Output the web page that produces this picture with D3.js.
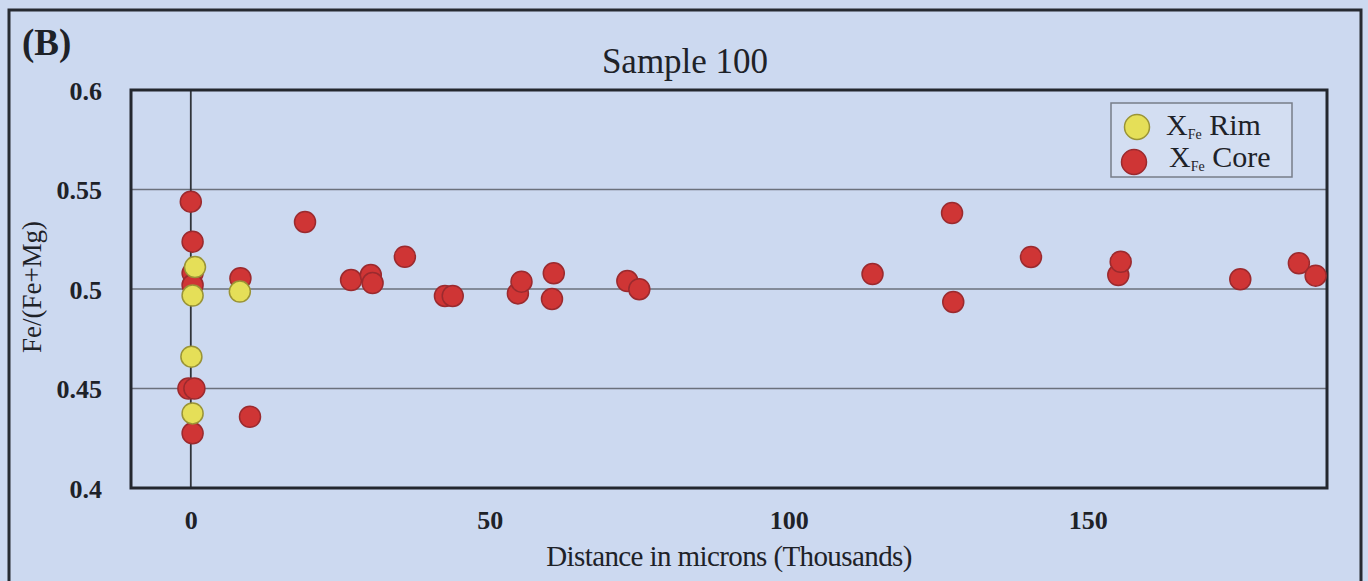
<!DOCTYPE html>
<html>
<head>
<meta charset="utf-8">
<script src="https://cdn.jsdelivr.net/npm/d3@7"></script>
<style>
  html, body { margin: 0; padding: 0; background: #ccd9f0; }
  svg { display: block; }
  text { font-family: "Liberation Serif", "Times New Roman", serif; fill: #1e2228; }
</style>
</head>
<body>
<svg id="chart" width="1368" height="581"></svg>
<script>
// ---- data ----
const rimX  = [0.7, 0.3, 0.1, 0.3, 8.2];
const rimY  = [0.511, 0.4967, 0.466, 0.4375, 0.4987];
const coreX = [0.0, 0.3, 0.3, 0.3, -0.4, 0.6, 0.3, 8.3, 9.9, 19.1, 26.8, 30.1, 30.4, 35.8, 42.5, 43.8,
               54.7, 55.3, 60.4, 60.7, 73.0, 75.0, 114.0, 127.3, 127.5, 140.5, 155.1, 155.5, 175.5, 185.3, 188.1];
const coreY = [0.5439, 0.5238, 0.508, 0.502, 0.450, 0.450, 0.4275, 0.5054, 0.4358, 0.5337, 0.5045, 0.507, 0.503, 0.5162, 0.4965, 0.4965,
               0.4978, 0.5037, 0.495, 0.5079, 0.504, 0.4999, 0.5075, 0.5382, 0.4935, 0.5161, 0.507, 0.5137, 0.5049, 0.5129, 0.5067];
const xTicks = [0, 50, 100, 150];
const yTicks = [0.4, 0.45, 0.5, 0.55, 0.6];
const yTickLabels = ["0.4", "0.45", "0.5", "0.55", "0.6"];
const chartTitle = "Sample 100";
const panelLabel = "(B)";
const xTitle = "Distance in microns (Thousands)";
const yTitle = "Fe/(Fe+Mg)";
const legendNames = ["Rim", "Core"];

// ---- layout ----
const svg = d3.select("#chart");
const L = 131, R = 1327, T = 90, B = 488;
const x = d3.scaleLinear().domain([-10, 190]).range([L, R]);
const y = d3.scaleLinear().domain([0.4, 0.6]).range([B, T]);

// outer frame
svg.append("rect").attr("x", 9).attr("y", 10).attr("width", 1352).attr("height", 620)
  .attr("fill", "#ccd9f0").attr("stroke", "#262a31").attr("stroke-width", 3);

// gridlines
svg.append("g").selectAll("line").data(yTicks.filter(d => d > 0.4 && d < 0.6)).join("line")
  .attr("x1", L).attr("x2", R).attr("y1", d => y(d)).attr("y2", d => y(d))
  .attr("stroke", "#6b717c").attr("stroke-width", 1.6);

// vertical axis line at x = 0
svg.append("line").attr("x1", x(0)).attr("x2", x(0)).attr("y1", T).attr("y2", B)
  .attr("stroke", "#30343a").attr("stroke-width", 1.8);

// plot border
svg.append("rect").attr("x", L).attr("y", T).attr("width", R - L).attr("height", B - T)
  .attr("fill", "none").attr("stroke", "#23272e").attr("stroke-width", 3);

// axes via d3 axis generators (ticks only as labels)
const xAxis = d3.axisBottom(x).tickValues(xTicks).tickSize(0).tickPadding(0).tickFormat(d3.format("d"));
const gx = svg.append("g").attr("transform", `translate(0,${B})`).call(xAxis);
gx.select(".domain").remove();
gx.selectAll("text").attr("y", 41).attr("dy", 0)
  .style("font-family", "'Liberation Serif', serif").style("font-size", "26px").style("font-weight", "bold").attr("fill", "#1e2228");

const yAxis = d3.axisLeft(y).tickValues(yTicks).tickSize(0).tickPadding(0).tickFormat((d, i) => yTickLabels[i]);
const gy = svg.append("g").attr("transform", `translate(102,0)`).call(yAxis);
gy.select(".domain").remove();
gy.selectAll("text").attr("x", 0).attr("dy", "0.35em")
  .style("font-family", "'Liberation Serif', serif").style("font-size", "26px").style("font-weight", "bold").attr("fill", "#1e2228");

// points
svg.append("g").selectAll("circle").data(coreX.map((d, i) => [d, coreY[i]])).join("circle")
  .attr("cx", d => x(d[0])).attr("cy", d => y(d[1])).attr("r", 10.5)
  .attr("fill", "#cf3535").attr("stroke", "#9b2a2e").attr("stroke-width", 1.5);
svg.append("g").selectAll("circle").data(rimX.map((d, i) => [d, rimY[i]])).join("circle")
  .attr("cx", d => x(d[0])).attr("cy", d => y(d[1])).attr("r", 10.5)
  .attr("fill", "#e5df58").attr("stroke", "#9a9436").attr("stroke-width", 1.5);

// titles
svg.append("text").attr("x", 685).attr("y", 73).attr("text-anchor", "middle")
  .style("font-size", "35px").text(chartTitle);
svg.append("text").attr("x", 22).attr("y", 55)
  .style("font-size", "37px").style("font-weight", "bold").text(panelLabel);
svg.append("text").attr("x", 729).attr("y", 566).attr("text-anchor", "middle")
  .style("font-size", "29px").style("letter-spacing", "-0.6px").text(xTitle);
svg.append("text").attr("transform", "translate(41,287) rotate(-90)").attr("text-anchor", "middle")
  .style("font-size", "27px").text(yTitle);

// legend
const lg = svg.append("g");
lg.append("rect").attr("x", 1111).attr("y", 103).attr("width", 181).attr("height", 74)
  .attr("fill", "#d3def2").attr("stroke", "#777d88").attr("stroke-width", 1.5);
const legColors = [["#e5df58", "#9a9436"], ["#cf3535", "#9b2a2e"]];
const legRows = [{cx: 1137, cy: 127, tx: 1166, ty: 135}, {cx: 1134, cy: 162, tx: 1169, ty: 167}];
legendNames.forEach((n, i) => {
  const r = legRows[i];
  lg.append("circle").attr("cx", r.cx).attr("cy", r.cy).attr("r", 12.5)
    .attr("fill", legColors[i][0]).attr("stroke", legColors[i][1]).attr("stroke-width", 1.5);
  const t = lg.append("text").attr("x", r.tx).attr("y", r.ty).style("font-size", "30px");
  t.append("tspan").text("X");
  t.append("tspan").attr("dy", 4).style("font-size", "14px").text("Fe");
  t.append("tspan").attr("dy", -4).text(" " + n);
});
</script>
</body>
</html>
